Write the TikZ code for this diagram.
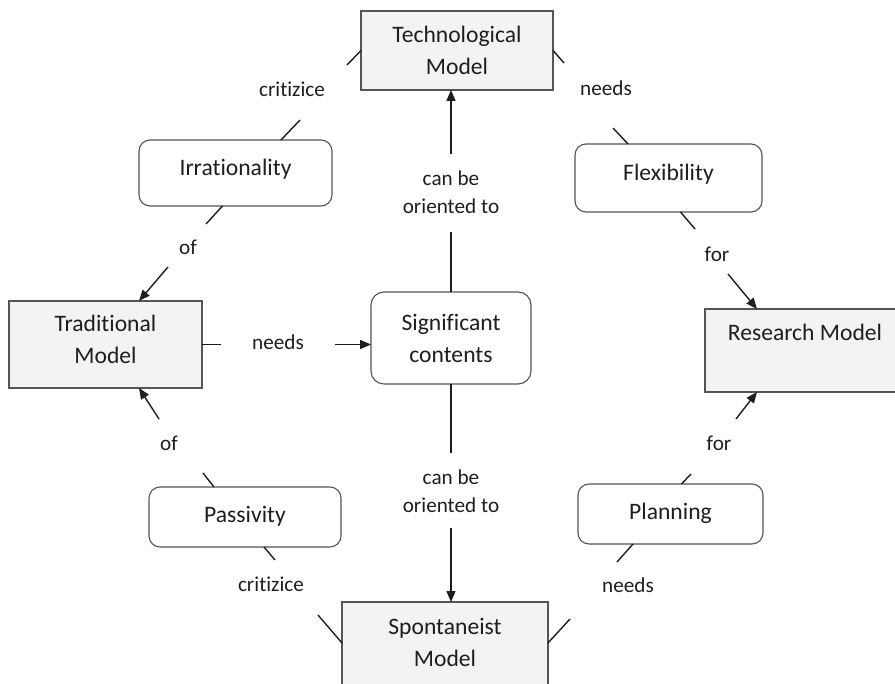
\documentclass[tikz,border=0pt]{standalone}
\usepackage{fontspec}
\setmainfont{Carlito}[Ligatures=NoCommon]
\usetikzlibrary{arrows.meta,calc}
\definecolor{boxgray}{RGB}{242,243,245}
\definecolor{inkgray}{RGB}{30,30,30}
\definecolor{edgegray}{RGB}{85,85,85}
\newcommand\cmNodeFont{\fontsize{23.6}{32}\selectfont}
\newcommand\cmLblFont{\fontsize{21.2}{28}\selectfont}
\newcommand\cmDn[1]{\rule[-#1pt]{0pt}{#1pt}}
\begin{document}
\begin{tikzpicture}[x=1pt,y=-1pt,
  every node/.style={outer sep=0pt, inner sep=0pt, text=inkgray},
  model/.style={draw=edgegray, line width=1.1pt, fill=boxgray, align=center, font=\cmNodeFont},
  concept/.style={draw=edgegray, line width=1.1pt, rounded corners=11pt, fill=white, align=center, font=\cmNodeFont},
  lbl/.style={align=center, font=\cmLblFont},
  link/.style={draw=inkgray, line width=1.4pt},
  arr/.style={link, -{Triangle[length=11pt,width=9pt]}},
]
\useasboundingbox (0,0) rectangle (895,684);
\clip (0,0) rectangle (895,684);

% main nodes
\node[model, minimum width=192pt, minimum height=79pt] (tech) at (457,50.5) {Technological\\Model};
\node[model, minimum width=193pt, minimum height=87pt] (trad) at (105.5,344.5) {Traditional\\Model\cmDn{10}};
\node[model, minimum width=200pt, minimum height=83pt, text height=16pt, text depth=36pt] (research) at (805,350.5) {Research Model};
\node[model, minimum width=206pt, minimum height=88pt] (spont) at (445,646) {Spontaneist\\Model\cmDn{8}};
\node[concept, minimum width=160pt, minimum height=92pt, rounded corners=13pt] (signif) at (451,338) {Significant\\contents};
\node[concept, minimum width=193pt, minimum height=66pt, text height=16pt, text depth=11pt] (irr) at (235.5,173) {Irrationality};
\node[concept, minimum width=187pt, minimum height=68pt, text height=16pt, text depth=11pt] (flex) at (668.5,178) {Flexibility};
\node[concept, minimum width=192pt, minimum height=60pt, text height=16pt, text depth=5pt] (pass) at (245,517) {Passivity};
\node[concept, minimum width=185pt, minimum height=60pt, text height=16pt, text depth=5pt] (plan) at (670.5,514) {Planning};

% link labels
\node[lbl] (l1) at (278,342) {needs};
\node[lbl] (l2) at (451,192) {can be\\oriented to};
\node[lbl] (l3) at (451,491) {can be\\oriented to};
\node[lbl] (l4) at (292,89) {critizice};
\node[lbl] (l5) at (188,247) {of};
\node[lbl] (l6) at (271,584) {critizice};
\node[lbl] (l7) at (169,443) {of};
\node[lbl] (l8) at (606,88) {needs};
\node[lbl] (l9) at (717,254) {for};
\node[lbl] (l10) at (628,585) {needs};
\node[lbl] (l11) at (719,443) {for};

% free ends of the broken connectors
\coordinate (c1a) at (221,344.5);  \coordinate (c1b) at (335,344.5);
\coordinate (c2a) at (451,232);  \coordinate (c2b) at (451,154);
\coordinate (c3a) at (451,453);  \coordinate (c3b) at (451,528);
\coordinate (c4a) at (347,65);   \coordinate (c4b) at (300,120);
\coordinate (c5a) at (206,224);  \coordinate (c5b) at (168,267);
\coordinate (c6a) at (318,615);  \coordinate (c6b) at (275,560);
\coordinate (c7a) at (203,473);  \coordinate (c7b) at (159,419);
\coordinate (c8a) at (564,63);   \coordinate (c8b) at (613,128);
\coordinate (c9a) at (695,229);  \coordinate (c9b) at (728,274);
\coordinate (c10a) at (570,619); \coordinate (c10b) at (617,562);
\coordinate (c11a) at (691,474); \coordinate (c11b) at (736,419);

% connectors
\draw[link] (trad.east) -- (c1a);
\draw[arr] (c1b) -- (c1b -| signif.west);

\draw[link] (signif.north) -- (c2a);
\draw[arr] (c2b) -- (c2b |- tech.south);

\draw[link] (signif.south) -- (c3a);
\draw[arr] (c3b) -- (c3b |- spont.north);

\draw[link] (tech.west) -- (c4a);
\draw[link] (c4b) -- ($(irr.north)+(45.5,0)$);

\draw[link] ($(irr.south)+(-13,0)$) -- (c5a);
\draw[arr] (c5b) -- ($(trad.north)+(33.5,0)$);

\draw[link] ($(spont.north west)+(0,41)$) -- (c6a);
\draw[link] (c6b) -- ($(pass.south)+(19,0)$);

\draw[link] ($(pass.north)+(-31,0)$) -- (c7a);
\draw[arr] (c7b) -- ($(trad.south)+(33.5,0)$);

\draw[link] (tech.east) -- (c8a);
\draw[link] (c8b) -- ($(flex.north)+(-40.5,0)$);

\draw[link] ($(flex.south)+(12,0)$) -- (c9a);
\draw[arr] (c9b) -- ($(research.north west)+(52,0)$);

\draw[link] ($(spont.north east)+(0,41)$) -- (c10a);
\draw[link] (c10b) -- ($(plan.south)+(-37.5,0)$);

\draw[link] ($(plan.north)+(11,0)$) -- (c11a);
\draw[arr] (c11b) -- ($(research.south west)+(52,0)$);
\end{tikzpicture}
\end{document}
